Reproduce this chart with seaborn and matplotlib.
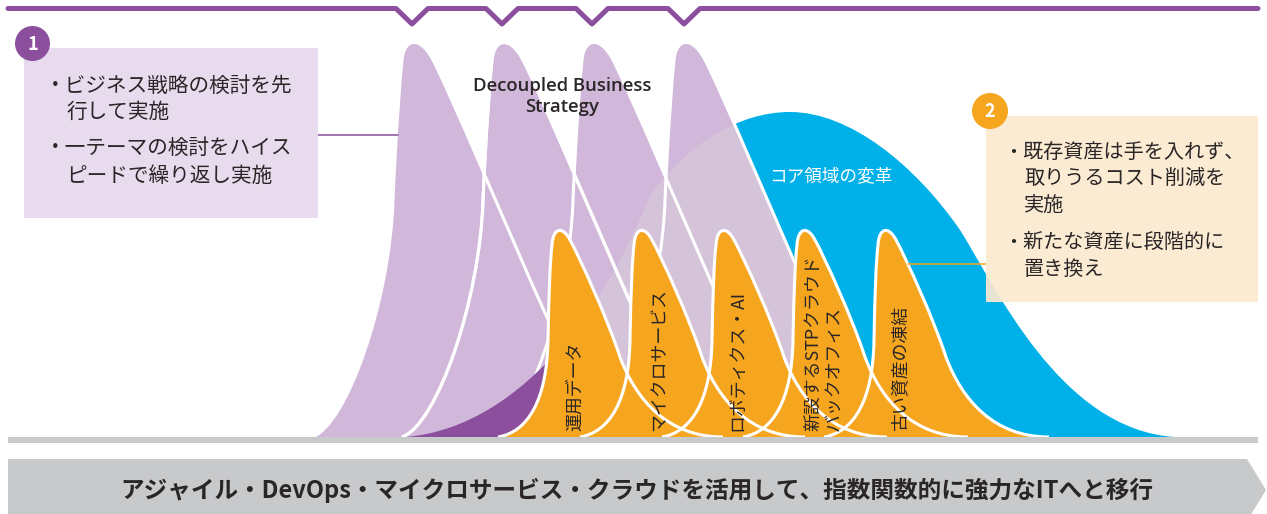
import matplotlib
matplotlib.use("Agg")
import matplotlib.pyplot as plt
from matplotlib.path import Path
from matplotlib.patches import PathPatch, Rectangle, Circle, Polygon
from matplotlib.transforms import Bbox
import seaborn as sns
import pandas as pd

# ---- data (x in px, heights in px above the baseline) ----
strategy_peaks = [412, 502, 592, 684]          # Decoupled Business Strategy sprints
initiative_peaks = [558, 640, 722, 803, 884]   # orange initiatives
initiative_labels = ["運用データ", "マイクロサービス", "ロボティクス・AI",
                     "新設するSTPクラウド\nバックオフィス", "古い資産の凍結"]
initiative_label_x = [575, 659, 738, 824, 901]

# one strategy wave: start point + cubic bezier segments, (dx from peak, height)
wave_start = (-100, 0)
wave_curves = [
    [(-65, 12), (-22, 137), (-19, 237)],
    [(-16, 307), (-12, 357), (-10, 377)],
    [(-8, 399), (8, 401), (20, 379)],
    [(35, 352), (100, 197), (133, 124)],
    [(165, 52), (215, 0), (270, 0)],
]
# one orange initiative
init_start = (-60, 0)
init_curves = [
    [(-30, 5), (-11, 37), (-10, 97)],
    [(-9, 147), (-8, 175), (-6, 192)],
    [(-5, 210), (5, 211), (12, 197)],
    [(22, 179), (50, 117), (62, 80)],
    [(78, 37), (110, 0), (165, 0)],
]
# core transformation hump (absolute x, height)
core_start = (405, 0)
core_curves = [
    [(530, 10), (615, 150), (650, 242)],
    [(690, 295), (740, 325), (790, 325)],
    [(850, 325), (915, 272), (960, 207)],
    [(995, 152), (1060, 7), (1175, 0)],
]

box1_lines = ["・ビジネス戦略の検討を先", "行して実施", "・一テーマの検討をハイス", "ピードで繰り返し実施"]
box2_lines = ["・既存資産は手を入れず、", "取りうるコスト削減を", "実施", "・新たな資産に段階的に", "置き換え"]
banner_text = "アジャイル・DevOps・マイクロサービス・クラウドを活用して、指数関数的に強力なITへと移行"

BASE = 437
PURPLE = "#8B4F9D"
LAV = "#D1B8DA"
TINT = "#D5C3DA"
BLUE = "#00B0E8"
ORANGE = "#F6A51F"
GRAY = "#C8C9CB"
TXT = "#2A2627"

sns.set_theme(style="white")
plt.rcParams["font.family"] = ["Noto Sans CJK JP", "DejaVu Sans"]


def bezier_path(start, curves, x0=0, close=True):
    verts = [(x0 + start[0], BASE - start[1])]
    codes = [Path.MOVETO]
    for seg in curves:
        for dx, h in seg:
            verts.append((x0 + dx, BASE - h))
            codes.append(Path.CURVE4)
    if close:
        verts.append(verts[0])
        codes.append(Path.CLOSEPOLY)
    return Path(verts, codes)


fig = plt.figure(figsize=(12.67, 5.14), dpi=100)
ax = fig.add_axes([0, 0, 1, 1])
ax.set_xlim(0, 1267)
ax.set_ylim(514, 0)
ax.axis("off")

# top sprint line with notches over every strategy wave
top_x, top_y = [8], [8.5]
for p in strategy_peaks:
    top_x += [p - 16, p, p + 16]
    top_y += [8.5, 24, 8.5]
top_x.append(1258)
top_y.append(8.5)
sns.lineplot(x=top_x, y=top_y, sort=False, estimator=None, color=PURPLE,
             lw=3.6, ax=ax, zorder=10)

# core hump
core = bezier_path(core_start, core_curves)
ax.add_patch(PathPatch(core, fc=BLUE, ec="none", zorder=1))

# strategy waves, with the hump showing through them
wave_patches = []
for i, p in enumerate(strategy_peaks):
    wp = PathPatch(bezier_path(wave_start, wave_curves, p), fc=LAV, ec="none",
                   zorder=2 + i * 0.1)
    ax.add_patch(wp)
    wave_patches.append(wp)
    tint = PathPatch(core, fc=TINT, ec="none", zorder=2 + i * 0.1 + 0.05)
    ax.add_patch(tint)
    tint.set_clip_path(wp)
for p in strategy_peaks:
    ax.add_patch(PathPatch(bezier_path(wave_start, wave_curves, p, close=False),
                           fill=False, ec="white", lw=2.2, zorder=3))

# dark part: hump inside the second wave, left of the first initiative
dark = PathPatch(core, fc=PURPLE, ec="none", zorder=3.1)
ax.add_patch(dark)
dark.set_clip_path(wave_patches[1])
(bx0, by0), (bx1, by1) = ax.transData.transform([(0, 514), (566, 0)])
dark.set_clip_box(Bbox.from_extents(min(bx0, bx1), min(by0, by1),
                                    max(bx0, bx1), max(by0, by1)))
ax.add_patch(PathPatch(bezier_path(wave_start, wave_curves, strategy_peaks[1], close=False),
                       fill=False, ec="white", lw=2.2, zorder=3.2))

ax.text(562, 86, "Decoupled Business", ha="center", va="center", fontsize=13.3,
        family=["Open Sans", "DejaVu Sans"], weight="semibold", color=TXT, zorder=4)
ax.text(562, 107, "Strategy", ha="center", va="center", fontsize=13.3,
        family=["Open Sans", "DejaVu Sans"], weight="semibold", color=TXT, zorder=4)
ax.text(831, 177, "コア領域の変革", ha="center", va="center", fontsize=12.7,
        color="white", zorder=4)

# orange initiatives
for p in initiative_peaks:
    ax.add_patch(PathPatch(bezier_path(init_start, init_curves, p), fc=ORANGE,
                           ec="none", zorder=5))
for p in initiative_peaks:
    ax.add_patch(PathPatch(bezier_path(init_start, init_curves, p, close=False),
                           fill=False, ec="white", lw=2.2, zorder=5.5))
for lx, lab in zip(initiative_label_x, initiative_labels):
    ax.text(lx, 431, lab, rotation=90, ha="center", va="bottom", fontsize=12.9,
            color=TXT, multialignment="left", linespacing=1.25, zorder=6)

# baseline
ax.add_patch(Rectangle((8, 437), 1250, 6, fc=GRAY, ec="none", zorder=7))

# callout 1
ax.plot([318, 398], [135, 135], color=PURPLE, lw=1.1, zorder=8)
ax.add_patch(Rectangle((24, 48), 294, 170, fc="#E7DBED", ec="none", zorder=8))
ax.add_patch(Circle((32.5, 43.5), 17.5, fc=PURPLE, ec="none", zorder=9))
ax.text(32.5, 44, "1", ha="center", va="center", fontsize=13, weight="bold",
        color="white", zorder=10)
for y, (x, s) in zip([86, 112, 148, 176], zip([45, 66, 45, 66], box1_lines)):
    ax.text(x, y, s, ha="left", va="center", fontsize=14.9, color=TXT, zorder=9)

# callout 2
ax.plot([908, 986], [264, 264], color=ORANGE, lw=1.1, zorder=8)
ax.add_patch(Rectangle((986, 116), 272, 186, fc="#FCEAD0", ec="none", alpha=0.92,
                       zorder=8))
ax.add_patch(Circle((990, 111), 18, fc=ORANGE, ec="none", zorder=9))
ax.text(990, 111.5, "2", ha="center", va="center", fontsize=13, weight="bold",
        color="white", zorder=10)
for y, (x, s) in zip([152, 178, 205, 242, 269],
                     zip([1003, 1024, 1024, 1003, 1024], box2_lines)):
    ax.text(x, y, s, ha="left", va="center", fontsize=14.5, color=TXT, zorder=9)

# bottom banner arrow
ax.add_patch(Polygon([(8, 459), (1247, 459), (1266, 490), (1247, 521), (8, 521)],
                     closed=True, fc=GRAY, ec="none", zorder=7))
ax.text(637, 490, banner_text, ha="center", va="center", fontsize=17,
        weight="bold", color=TXT, zorder=8)

fig.savefig("out.png", dpi=100)
